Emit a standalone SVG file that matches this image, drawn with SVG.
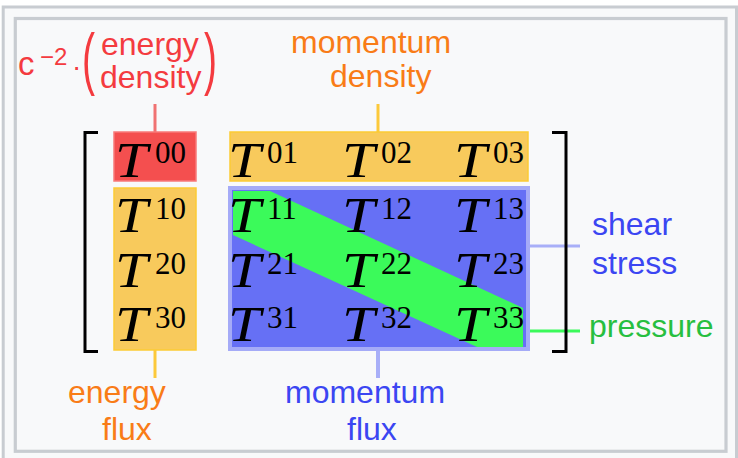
<svg xmlns="http://www.w3.org/2000/svg" width="738" height="458" viewBox="0 0 738 458">
<style>
.lbl{font-family:"Liberation Sans",Arial,sans-serif;font-size:32px}
.red{fill:#f43b3f}
.org{fill:#f97c17}
.blu{fill:#3b46f2}
.grn{fill:#27bf3f}
.T{font-family:"Liberation Serif","Times New Roman",serif;font-style:italic;font-size:50px;fill:#000}
.s{font-family:"Liberation Serif","Times New Roman",serif;font-size:31px;fill:#000}
.br{fill:none;stroke:#000;stroke-width:3}
</style>
<rect x="0" y="0" width="738" height="458" fill="#ffffff"/>
<rect x="3.2" y="7" width="733.3" height="470" fill="#f8f9fa" stroke="#c8ccd1" stroke-width="3"/>
<rect x="15.3" y="18.5" width="710.7" height="432.8" fill="#f8f9fa" stroke="#c8ccd1" stroke-width="3.2"/>

<g id="connectors">
<line x1="155" y1="104" x2="155" y2="132" stroke="#f07272" stroke-width="3"/>
<line x1="378" y1="104" x2="378" y2="132" stroke="#fcc93a" stroke-width="3"/>
<line x1="155" y1="350" x2="155" y2="378" stroke="#fcc93a" stroke-width="3"/>
<line x1="378" y1="350" x2="378" y2="378" stroke="#a8aff8" stroke-width="4"/>
<line x1="528" y1="246" x2="580" y2="246" stroke="#a8aff8" stroke-width="3"/>
<line x1="522" y1="331" x2="580" y2="331" stroke="#3bfa5a" stroke-width="3"/>
</g>

<g id="energy-density">
<rect x="114" y="132" width="82" height="49" fill="#f44f4f" stroke="#f77a7a" stroke-width="1.5"/>
</g>
<g id="momentum-density">
<rect x="230" y="132" width="298" height="49" fill="#f8ca5c" stroke="#fccb35" stroke-width="1.5"/>
</g>
<g id="energy-flux">
<rect x="114" y="188" width="82" height="162" fill="#f8ca5c" stroke="#fccb35" stroke-width="1.5"/>
</g>
<g id="momentum-flux">
<rect x="230" y="188" width="298" height="161" fill="#6670f5" stroke="#a5abf7" stroke-width="4"/>
</g>
<g id="pressure-band">
<polygon points="233,191 270,191 523,308 523,347 477,347 233,235" fill="#3bfa5a"/>
</g>

<g id="brackets">
<path class="br" d="M98,132.5 H85 V351.5 H98"/>
<path class="br" d="M552,132.5 H566 V351.5 H552"/>
</g>

<g id="matrix">
<text class="T" x="115" y="177" transform="translate(115,0) scale(1.18,1) translate(-115,0)">T</text><text class="s" x="155" y="163">00</text>
<text class="T" x="228" y="177" transform="translate(228,0) scale(1.18,1) translate(-228,0)">T</text><text class="s" x="267" y="163">01</text>
<text class="T" x="342" y="177" transform="translate(342,0) scale(1.18,1) translate(-342,0)">T</text><text class="s" x="381" y="163">02</text>
<text class="T" x="454" y="177" transform="translate(454,0) scale(1.18,1) translate(-454,0)">T</text><text class="s" x="493" y="163">03</text>

<text class="T" x="115" y="232" transform="translate(115,0) scale(1.18,1) translate(-115,0)">T</text><text class="s" x="155" y="219">10</text>
<text class="T" x="228" y="232" transform="translate(228,0) scale(1.18,1) translate(-228,0)">T</text><text class="s" x="267" y="219">11</text>
<text class="T" x="342" y="232" transform="translate(342,0) scale(1.18,1) translate(-342,0)">T</text><text class="s" x="381" y="219">12</text>
<text class="T" x="454" y="232" transform="translate(454,0) scale(1.18,1) translate(-454,0)">T</text><text class="s" x="493" y="219">13</text>

<text class="T" x="115" y="287" transform="translate(115,0) scale(1.18,1) translate(-115,0)">T</text><text class="s" x="155" y="274">20</text>
<text class="T" x="228" y="287" transform="translate(228,0) scale(1.18,1) translate(-228,0)">T</text><text class="s" x="267" y="274">21</text>
<text class="T" x="342" y="287" transform="translate(342,0) scale(1.18,1) translate(-342,0)">T</text><text class="s" x="381" y="274">22</text>
<text class="T" x="454" y="287" transform="translate(454,0) scale(1.18,1) translate(-454,0)">T</text><text class="s" x="493" y="274">23</text>

<text class="T" x="115" y="341" transform="translate(115,0) scale(1.18,1) translate(-115,0)">T</text><text class="s" x="155" y="328">30</text>
<text class="T" x="228" y="341" transform="translate(228,0) scale(1.18,1) translate(-228,0)">T</text><text class="s" x="267" y="328">31</text>
<text class="T" x="342" y="341" transform="translate(342,0) scale(1.18,1) translate(-342,0)">T</text><text class="s" x="381" y="328">32</text>
<text class="T" x="454" y="341" transform="translate(454,0) scale(1.18,1) translate(-454,0)">T</text><text class="s" x="493" y="328">33</text>
</g>

<g id="label-energy-density">
<text class="lbl red" x="18" y="75" style="font-size:33px">c</text>
<text class="lbl red" x="40" y="65" style="font-size:24px">−2</text>
<text class="lbl red" x="72" y="76" style="font-size:28px">·</text>
<text class="lbl red" transform="translate(82,82.2) scale(1.3,2.3)" style="font-size:30px">(</text>
<text class="lbl red" x="101" y="55">energy</text>
<text class="lbl red" x="100" y="88">density</text>
<text class="lbl red" transform="translate(204,82.2) scale(1.3,2.3)" style="font-size:30px">)</text>
</g>
<g id="label-momentum-density">
<text class="lbl org" x="291" y="53">momentum</text>
<text class="lbl org" x="330" y="87">density</text>
</g>
<g id="label-energy-flux">
<text class="lbl org" x="68" y="403">energy</text>
<text class="lbl org" x="102" y="440">flux</text>
</g>
<g id="label-momentum-flux">
<text class="lbl blu" x="285" y="403">momentum</text>
<text class="lbl blu" x="347" y="440">flux</text>
</g>
<g id="label-shear-stress">
<text class="lbl blu" x="592" y="235">shear</text>
<text class="lbl blu" x="592" y="274">stress</text>
</g>
<g id="label-pressure">
<text class="lbl grn" x="589" y="337">pressure</text>
</g>
</svg>
